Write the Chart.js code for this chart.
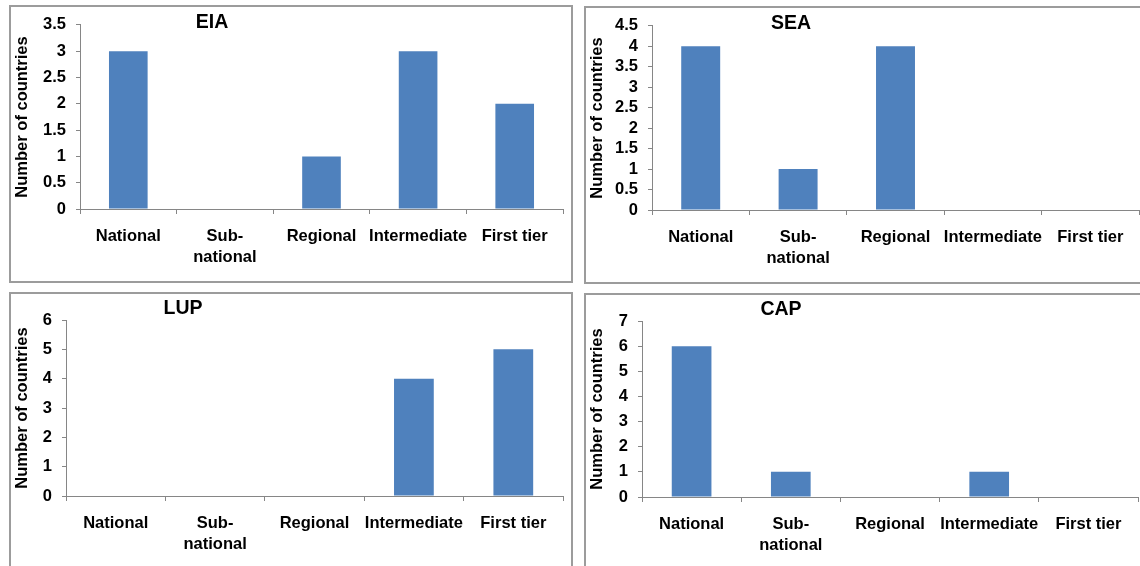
<!DOCTYPE html>
<html>
<head>
<meta charset="utf-8">
<script src="https://cdn.jsdelivr.net/npm/chart.js@4"></script>
<style>
  html, body { margin: 0; padding: 0; background: #fff; overflow: hidden; }
  body { width: 1140px; height: 566px; position: relative; }
  .frame { position: absolute; box-sizing: border-box; border: 2px solid #9c9c9c; }
  canvas { position: absolute; }
</style>
</head>
<body>
<div class="frame" style="left:9px;top:5px;width:564px;height:278px"></div>
<div class="frame" style="left:584px;top:6px;width:560px;height:278px"></div>
<div class="frame" style="left:9px;top:292px;width:564px;height:278px"></div>
<div class="frame" style="left:584px;top:293px;width:560px;height:278px"></div>
<canvas id="c1" width="564" height="278" style="left:9px;top:5px"></canvas>
<canvas id="c2" width="560" height="278" style="left:584px;top:6px"></canvas>
<canvas id="c3" width="564" height="278" style="left:9px;top:292px"></canvas>
<canvas id="c4" width="560" height="278" style="left:584px;top:293px"></canvas>
<script>
// ---- Data ----
const categories = ['National', ['Sub-', 'national'], 'Regional', 'Intermediate', 'First tier'];
const panelTitles = ['EIA', 'SEA', 'LUP', 'CAP'];
const eiaValues = [3, 0, 1, 3, 2];
const seaValues = [4, 1, 4, 0, 0];
const lupValues = [0, 0, 0, 4, 5];
const capValues = [6, 1, 0, 1, 0];
const yMaxValues = [3.5, 4.5, 6, 7];
const yStepValues = [0.5, 0.5, 1, 1];
const yAxisTitle = 'Number of countries';

// ---- Styling / layout ----
const FONT = '"Liberation Sans", Arial, Helvetica, sans-serif';
const BAR = '#4F81BD';
const AXIS = '#868686';
const FS = 16.5;

const panelTitlePlugin = {
  id: 'panelTitle',
  afterDraw(chart, args, opts) {
    const ctx = chart.ctx;
    ctx.save();
    ctx.font = 'bold 19.5px ' + FONT;
    ctx.fillStyle = '#000';
    ctx.textAlign = 'center';
    ctx.textBaseline = 'middle';
    ctx.fillText(opts.text, opts.x, opts.y);
    ctx.restore();
  }
};

function makeChart(id, values, title, yMax, yStep, layout) {
  return new Chart(document.getElementById(id), {
    type: 'bar',
    data: {
      labels: categories,
      datasets: [{
        data: values,
        backgroundColor: BAR,
        borderWidth: 0,
        barPercentage: 0.4,
        categoryPercentage: 1.0
      }]
    },
    plugins: [panelTitlePlugin],
    options: {
      responsive: false,
      animation: false,
      events: [],
      layout: { padding: { left: 0, top: layout.top, right: layout.right, bottom: 0 } },
      plugins: {
        legend: { display: false },
        tooltip: { enabled: false },
        panelTitle: { text: title, x: layout.tx, y: layout.ty }
      },
      scales: {
        x: {
          grid: { offset: true, drawOnChartArea: false, drawTicks: true, tickLength: 5, color: AXIS },
          border: { color: AXIS, width: 1 },
          ticks: {
            autoSkip: false, maxRotation: 0, minRotation: 0, padding: 12,
            color: '#000',
            font: { family: FONT, size: FS, weight: 'bold', lineHeight: 1.28 }
          },
          afterFit(scale) { scale.height = layout.xh; }
        },
        y: {
          min: 0, max: yMax,
          grid: { drawOnChartArea: false, drawTicks: true, tickLength: 4, color: AXIS },
          border: { color: AXIS, width: 1 },
          ticks: {
            stepSize: yStep, autoSkip: false, padding: 10, color: '#000',
            font: { family: FONT, size: FS, weight: 'bold' },
            callback: (v) => String(v)
          },
          title: {
            display: true, text: yAxisTitle, color: '#000',
            font: { family: FONT, size: FS, weight: 'bold', lineHeight: 1.2 },
            padding: { top: 4, bottom: 4 }
          },
          afterFit(scale) { scale.width = layout.yw; }
        }
      }
    }
  });
}

makeChart('c1', eiaValues, panelTitles[0], yMaxValues[0], yStepValues[0], { yw: 71, xh: 74, top: 16, right: 10, tx: 203, ty: 18 });
makeChart('c2', seaValues, panelTitles[1], yMaxValues[1], yStepValues[1], { yw: 68, xh: 74, top: 16, right: 5, tx: 207, ty: 18 });
makeChart('c3', lupValues, panelTitles[2], yMaxValues[2], yStepValues[2], { yw: 57, xh: 74, top: 28, right: 10, tx: 174, ty: 17 });
makeChart('c4', capValues, panelTitles[3], yMaxValues[3], yStepValues[3], { yw: 58, xh: 74, top: 28, right: 6, tx: 197, ty: 17 });
</script>
</body>
</html>
